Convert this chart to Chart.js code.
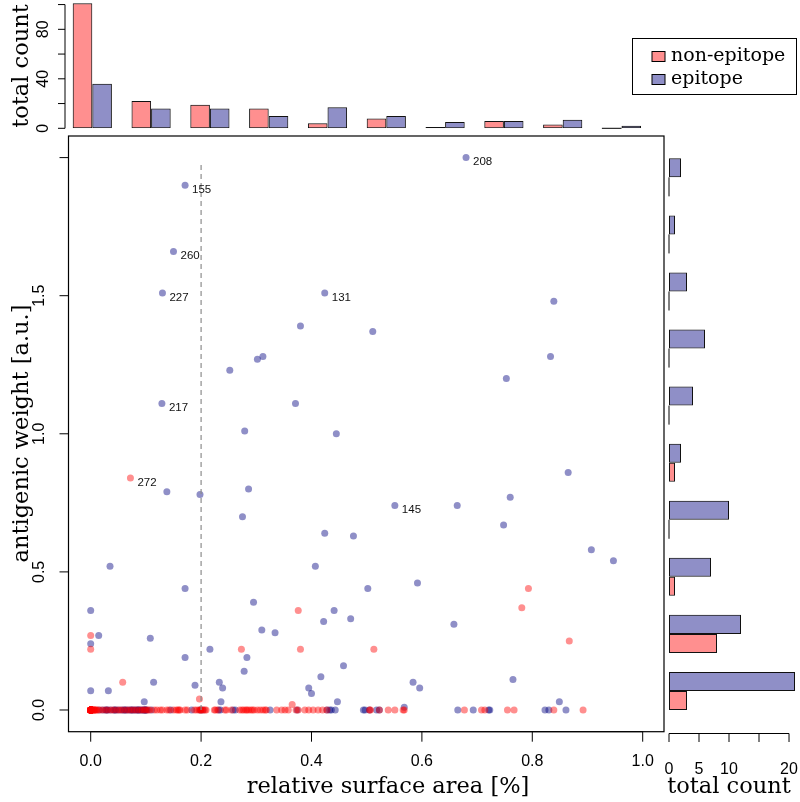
<!DOCTYPE html>
<html>
<head>
<meta charset="utf-8">
<script src="https://cdn.jsdelivr.net/npm/chart.js@4.4.1/dist/chart.umd.min.js"></script>
<style>
  body { margin: 0; background: #fff; }
  #wrap { position: relative; width: 800px; height: 802px; overflow: hidden; }
  canvas { position: absolute; left: 0; top: 0; }
</style>
</head>
<body>
<div id="wrap">
  <canvas id="topHist" width="800" height="802"></canvas>
  <canvas id="sideHist" width="800" height="802"></canvas>
  <canvas id="scatter" width="800" height="802"></canvas>
</div>
<script>
// histogram of relative surface area (bins of 0.1)
var areaBins = ['0.0', '0.1', '0.2', '0.3', '0.4', '0.5', '0.6', '0.7', '0.8', '0.9'];
var topNonEpitope = [101, 22, 19, 16, 4, 8, 1, 6, 3, 0];
var topEpitope = [36, 16, 16, 10, 17, 10, 5, 6, 7, 2];

// histogram of antigenic weight > 0 (bins of 0.2)
var weightBins = ['0.0', '0.2', '0.4', '0.6', '0.8', '1.0', '1.2', '1.4', '1.6', '1.8'];
var sideNonEpitope = [3, 8, 1, 0, 1, 0, 0, 0, 0, 0];
var sideEpitope = [21, 12, 7, 10, 2, 4, 6, 3, 1, 2];

// scatter, non-epitope residues with weight > 0 (first one is labelled)
var nonTags = ['272'];
var nonX = [0.072, 0.793, 0.376, 0.781, 0, 0.867, 0.273, 0.38, 0.513, 0, 0.058, 0.197, 0.365];
var nonY = [0.84, 0.44, 0.36, 0.37, 0.27, 0.25, 0.22, 0.22, 0.22, 0.22, 0.10, 0.04, 0.02];
// non-epitope residues with weight 0
var nonZeroX = [
  0, 0, 0, 0, 0, 0, 0, 0, 0, 0, 0, 0, 0, 0, 0, 0, 0, 0, 0, 0,
  0, 0, 0, 0, 0, 0, 0, 0, 0, 0, 0, 0, 0, 0, 0, 0, 0, 0, 0, 0,
  0, 0, 0, 0, 0, 0, 0, 0, 0, 0, 0, 0, 0, 0, 0, 0, 0, 0, 0, 0,
  0, 0, 0, 0, 0, 0, 0, 0, 0, 0,
  0.002, 0.003, 0.004, 0.005, 0.006, 0.007, 0.008, 0.01, 0.011,
  0.015, 0.02, 0.026, 0.031, 0.037, 0.042, 0.048, 0.053, 0.058,
  0.064, 0.069, 0.074, 0.079, 0.084, 0.089, 0.093, 0.097, 0.1,
  0.104, 0.107, 0.115, 0.12, 0.126, 0.13, 0.138, 0.142, 0.15, 0.155,
  0.158, 0.16, 0.162, 0.171, 0.175, 0.188, 0.192, 0.196, 0.199, 0.2, 0.2,
  0.204, 0.207, 0.209, 0.224, 0.226, 0.23, 0.243, 0.246, 0.255, 0.27,
  0.274, 0.277, 0.281, 0.283, 0.286, 0.29, 0.293, 0.296,
  0.302, 0.307, 0.312, 0.316, 0.318, 0.337, 0.346, 0.352, 0.358, 0.372,
  0.376, 0.388, 0.395,
  0.403, 0.412, 0.42, 0.428,
  0.505, 0.507, 0.523, 0.539, 0.551, 0.566, 0.568,
  0.677,
  0.708, 0.714, 0.755, 0.767,
  0.839, 0.892
];

// scatter, epitope residues with weight > 0 (first seven are labelled)
var epiTags = ['208', '155', '260', '227', '131', '217', '145'];
var epiX = [0.68, 0.171, 0.15, 0.13, 0.424, 0.129, 0.551,
  0.839, 0.38, 0.511, 0.302, 0.312, 0.833, 0.252, 0.753, 0.371, 0.279,
  0.445, 0.865, 0.286, 0.138, 0.198, 0.76, 0.664, 0.275, 0.748, 0.424,
  0.476, 0.907, 0.947, 0.035, 0.407, 0.592, 0.502, 0.171, 0.295, 0,
  0.441, 0.471, 0.422, 0.658, 0.31, 0.334, 0.0145, 0.108, 0, 0.216,
  0.283, 0.171, 0.458, 0.278, 0.417, 0.765, 0.584, 0.114, 0.233, 0.189,
  0.596, 0.395, 0.239, 0, 0.032, 0.40, 0.447, 0.849, 0.097, 0.236, 0.568];
var epiY = [2.0, 1.90, 1.66, 1.51, 1.51, 1.11, 0.74,
  1.48, 1.39, 1.37, 1.27, 1.28, 1.28, 1.23, 1.20, 1.11, 1.01,
  1.00, 0.86, 0.80, 0.79, 0.78, 0.77, 0.74, 0.70, 0.67, 0.64,
  0.63, 0.58, 0.54, 0.52, 0.52, 0.46, 0.44, 0.44, 0.39, 0.36,
  0.36, 0.33, 0.32, 0.31, 0.29, 0.28, 0.27, 0.26, 0.24, 0.22,
  0.19, 0.19, 0.16, 0.14, 0.12, 0.11, 0.10, 0.10, 0.10, 0.09,
  0.08, 0.08, 0.08, 0.07, 0.07, 0.06, 0.03, 0.03, 0.03, 0.03, 0.01];
// epitope residues with weight 0
var epiZeroX = [
  0.015, 0.022, 0.027, 0.029, 0.031, 0.036, 0.042, 0.044, 0.046, 0.051,
  0.056, 0.06, 0.062, 0.064, 0.068, 0.072, 0.074, 0.076, 0.079, 0.082,
  0.085, 0.086, 0.088, 0.091, 0.094, 0.096, 0.098, 0.099, 0.1,
  0.102, 0.11, 0.145, 0.183, 0.198,
  0.203, 0.232, 0.235, 0.258, 0.262,
  0.325, 0.374,
  0.428, 0.433, 0.436, 0.443, 0.494, 0.497,
  0.505, 0.518, 0.523,
  0.665, 0.693,
  0.721, 0.723,
  0.823, 0.83, 0.861
];

// cut-off line at 20 % surface area
var cutoffX = 0.2;
var cutoffY = [0, 1.98];

var tickArea = [0, 0.2, 0.4, 0.6, 0.8, 1.0];
var tickAreaLab = ['0.0', '0.2', '0.4', '0.6', '0.8', '1.0'];
var tickWeight = [0, 0.5, 1.0, 1.5, 2.0];
var tickWeightLab = ['0.0', '0.5', '1.0', '1.5', ''];
var tickTop = [0, 20, 40, 60, 80, 100];
var tickTopLab = ['0', '', '40', '', '80', ''];
var tickSide = [0, 5, 10, 15, 20];
var tickSideLab = ['0', '5', '10', '', '20'];

var pink = 'rgba(255, 0, 0, 0.44)';
var blue = 'rgba(0, 0, 128, 0.44)';
var tickFont = '16px "Liberation Sans"';
var titleFont = '22.5px "DejaVu Serif"';

Chart.defaults.animation = false;
Chart.defaults.responsive = false;
Chart.defaults.events = [];
Chart.defaults.plugins.legend.display = false;
Chart.defaults.plugins.tooltip.enabled = false;

function pts(xs, ys) {
  return xs.map(function (x, i) { return { x: x, y: ys == null ? 0 : ys[i] }; });
}

// R like axis: line from first to last tick, outward ticks, labels
function rAxis(ctx, scale, side, at, len, lab, values, labels) {
  var p = values.map(function (v) { return scale.getPixelForValue(v); });
  ctx.save();
  ctx.strokeStyle = '#000';
  ctx.lineWidth = 1;
  ctx.beginPath();
  if (side == 'bottom') {
    ctx.moveTo(p[0], at); ctx.lineTo(p[p.length - 1], at);
    p.forEach(function (x) { ctx.moveTo(x, at); ctx.lineTo(x, at + len); });
  } else {
    ctx.moveTo(at, p[0]); ctx.lineTo(at, p[p.length - 1]);
    p.forEach(function (y) { ctx.moveTo(at, y); ctx.lineTo(at - len, y); });
  }
  ctx.stroke();
  ctx.fillStyle = '#000';
  ctx.font = tickFont;
  ctx.textAlign = 'center';
  ctx.textBaseline = 'middle';
  labels.forEach(function (t, i) {
    if (!t) return;
    if (side == 'bottom') {
      ctx.fillText(t, p[i], at + lab);
    } else {
      ctx.save();
      ctx.translate(at - lab, p[i]);
      ctx.rotate(-Math.PI / 2);
      ctx.fillText(t, 0, 0);
      ctx.restore();
    }
  });
  ctx.restore();
}

function title(ctx, t, x, y, rot) {
  ctx.save();
  ctx.fillStyle = '#000';
  ctx.font = titleFont;
  ctx.textAlign = 'center';
  ctx.textBaseline = 'middle';
  ctx.translate(x, y);
  if (rot) ctx.rotate(-Math.PI / 2);
  ctx.fillText(t, 0, 0);
  ctx.restore();
}

// barplot draws empty bars as a line
function zeroBars(chart) {
  var ctx = chart.ctx;
  ctx.save();
  ctx.strokeStyle = '#000';
  ctx.lineWidth = 1;
  chart.data.datasets.forEach(function (ds, d) {
    chart.getDatasetMeta(d).data.forEach(function (bar, i) {
      if (ds.data[i] !== 0) return;
      ctx.beginPath();
      if (bar.horizontal) {
        ctx.moveTo(bar.base, bar.y - bar.height / 2);
        ctx.lineTo(bar.base, bar.y + bar.height / 2);
      } else {
        ctx.moveTo(bar.x - bar.width / 2, bar.base);
        ctx.lineTo(bar.x + bar.width / 2, bar.base);
      }
      ctx.stroke();
    });
  });
  ctx.restore();
}

// ---------- top histogram ----------
new Chart(document.getElementById('topHist'), {
  type: 'bar',
  data: {
    labels: areaBins,
    datasets: [
      { label: 'non-epitope', data: topNonEpitope, backgroundColor: pink },
      { label: 'epitope', data: topEpitope, backgroundColor: blue }
    ]
  },
  options: {
    layout: { padding: { left: 62.9, right: 149.1, top: 0, bottom: 673.7 } },
    datasets: { bar: { categoryPercentage: 2 / 3, barPercentage: 1, borderWidth: 1,
      borderColor: '#111', borderSkipped: false } },
    scales: {
      x: { display: false },
      y: { display: false, min: 0, max: 103.7 }
    }
  },
  plugins: [{
    id: 'topDecor',
    afterDatasetsDraw: function (chart) {
      var ctx = chart.ctx;
      zeroBars(chart);
      rAxis(ctx, chart.scales.y, 'left', 65, 7, 21, tickTop, tickTopLab);
      title(ctx, 'total count', 22, 66, true);
      // legend
      ctx.save();
      ctx.strokeStyle = '#000';
      ctx.lineWidth = 1;
      ctx.strokeRect(632.5, 38.5, 164, 56);
      ctx.font = '19px "DejaVu Serif"';
      ctx.textBaseline = 'middle';
      chart.data.datasets.forEach(function (ds, i) {
        var y = 51.5 + i * 23;
        ctx.fillStyle = ds.backgroundColor;
        ctx.fillRect(652, y, 13, 10);
        ctx.strokeRect(652, y, 13, 10);
        ctx.fillStyle = '#000';
        ctx.fillText(ds.label, 671, y + 5);
      });
      ctx.restore();
    }
  }]
});

// ---------- side histogram ----------
new Chart(document.getElementById('sideHist'), {
  type: 'bar',
  data: {
    labels: weightBins,
    datasets: [
      { label: 'epitope', data: sideEpitope, backgroundColor: blue },
      { label: 'non-epitope', data: sideNonEpitope, backgroundColor: pink }
    ]
  },
  options: {
    indexAxis: 'y',
    layout: { padding: { left: 669, right: 0, top: 148.8, bottom: 82.5 } },
    datasets: { bar: { categoryPercentage: 2 / 3, barPercentage: 1, borderWidth: 1,
      borderColor: '#111', borderSkipped: false } },
    scales: {
      y: { display: false, reverse: true },
      x: { display: false, min: 0, max: 21.83 }
    }
  },
  plugins: [{
    id: 'sideDecor',
    afterDatasetsDraw: function (chart) {
      var ctx = chart.ctx;
      zeroBars(chart);
      rAxis(ctx, chart.scales.x, 'bottom', 733.5, 8.5, 36, tickSide, tickSideLab);
      title(ctx, 'total count', 729, 787, false);
    }
  }]
});

// ---------- scatter ----------
new Chart(document.getElementById('scatter'), {
  type: 'scatter',
  data: {
    datasets: [
      { label: 'cutoff', data: pts([cutoffX, cutoffX], cutoffY), showLine: true,
        borderColor: '#8c8c8c', borderWidth: 1.2, borderDash: [5, 4], pointRadius: 0 },
      { label: 'non-epitope', data: pts(nonX, nonY).concat(pts(nonZeroX)),
        pointBackgroundColor: pink, pointBorderWidth: 0, pointRadius: 3.5 },
      { label: 'epitope', data: pts(epiX, epiY).concat(pts(epiZeroX)),
        pointBackgroundColor: blue, pointBorderWidth: 0, pointRadius: 3.5 }
    ]
  },
  options: {
    layout: { padding: { left: 68.5, right: 136, top: 136, bottom: 70.3 } },
    clip: false,
    scales: {
      x: { type: 'linear', display: false, min: -0.0402, max: 1.0386 },
      y: { type: 'linear', display: false, min: -0.0786, max: 2.0782 }
    }
  },
  plugins: [{
    id: 'scatterDecor',
    afterDatasetsDraw: function (chart) {
      var ctx = chart.ctx, a = chart.chartArea;
      ctx.save();
      ctx.strokeStyle = '#000';
      ctx.lineWidth = 1.2;
      ctx.strokeRect(a.left, a.top, a.right - a.left, a.bottom - a.top);
      ctx.restore();
      rAxis(ctx, chart.scales.x, 'bottom', a.bottom, 10, 30, tickArea, tickAreaLab);
      rAxis(ctx, chart.scales.y, 'left', a.left, 9, 28.5, tickWeight, tickWeightLab);
      title(ctx, 'relative surface area [%]', 388, 787, false);
      title(ctx, 'antigenic weight [a.u.]', 22, 433.5, true);
      // residue numbers next to the outstanding points
      ctx.save();
      ctx.fillStyle = '#111';
      ctx.font = '11.5px "Liberation Sans"';
      ctx.textBaseline = 'middle';
      [[1, nonTags], [2, epiTags]].forEach(function (pair) {
        var meta = chart.getDatasetMeta(pair[0]);
        pair[1].forEach(function (t, i) {
          var p = meta.data[i];
          ctx.fillText(t, p.x + 7, p.y + 4.5);
        });
      });
      ctx.restore();
    }
  }]
});
</script>
</body>
</html>
